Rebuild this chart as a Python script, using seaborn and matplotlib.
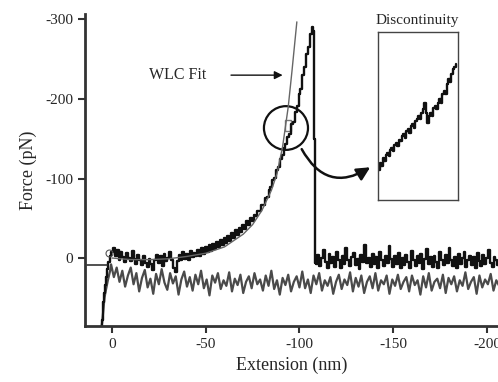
import numpy as np
import pandas as pd
import matplotlib.pyplot as plt
from matplotlib.patches import Ellipse, Rectangle
import seaborn as sns

# ---- data (extension in nm, force in pN) ----
start_x = [5.5, 5.2, 4.8, 4.4, 4.0, 3.4, 2.8, 2.2, 1.6, 1.0]
start_black = [85, 78, 66, 55, 44, 34, 24, 14, 5, -3]
start_gray = [85, 80, 70, 60, 50, 42, 35, 28, 22, 16]

black_rise = [-8, -12, -3, -10, 2, -8, -1, 5, -6, 0, 4, -9, 1, 7, -4, 3, 9, -3, 6, 11,
              1, 8, 15, 2, -4, 6, -2, 10, -5, 4, 0, -7, 3, 13, 17, 4, -4, 3, -8, 1,
              -5, 2, -9, -1, -6,
              -2, -10, -3, -12, -5, -14, -7, -16, -9, -18, -11, -20, -14, -23, -16, -25,
              -19, -28, -21, -31, -25, -35, -29, -38, -33, -42, -36, -46, -41, -50, -46,
              -54, -53, -59, -59, -67, -67, -75, -77, -86, -89, -98, -101, -111, -115, -125,
              -130, -138, -143, -152, -156, -168, -171, -184, -191, -206, -213, -230, -240,
              -257, -266, -282, -290]
rupture_x = [-107.6, -108.0, -108.3]
rupture_f = [-286, -150, 6]
black_after = [8, -4, 10, 0, -10, 5, 12, -5, 6, -1, 11, -7, 3, 13, -3, 7, -13, 2, 10, -1,
               -6, 9, 1, 14, -4, 5, -17, 6, 0, 11, -5, 7, -1, 12, -8, 3, 10, -3, 6, -15,
               1, 11, -2, 7, -6, 13, 0, 9, -4, 5, 12, -9, 3, 10, -2, 6, -5, 14, 1, -11,
               7, -1, 11, -3, 5, 13, -7, 3, 9, -4, 6, -13, 2, 10, -1, 12, -5, 7, 0, -8,
               11, 2, -3, 9, -1, 13, -6, 4, 10, -4, 7, 0, -10, 6, 11, -1, 3, 9]
gray_noise = [8, 24, 12, 30, 16, 36, 22, 12, 33, 19, 42, 25, 15, 37, 26, 45, 20, 33, 14, 31,
              40, 19, 32, 23, 46, 27, 17, 36, 24, 41, 21, 33, 16, 38, 27, 47, 22, 31, 19, 39,
              28, 35, 18, 42, 26, 34, 21, 44, 30, 23, 38, 19, 33, 27, 41, 22, 35, 16, 39, 28,
              46, 25, 34, 21, 42, 30, 23, 37, 17, 38, 27, 44, 22, 33, 19, 41, 28, 35, 24, 45,
              30, 21, 39, 27, 34, 18, 42, 25, 36, 22, 44, 30, 23, 38, 19, 41, 28, 33, 22, 45,
              27, 35, 21, 39, 30, 24, 42, 22, 34, 28, 46, 23, 37, 19, 41, 30, 26, 38, 21, 44,
              25, 33, 23, 42, 28, 35, 18, 39, 30, 24, 45, 22, 37, 27, 33, 20, 41, 28, 35]

wlc_x = [0, -10, -20, -30, -40, -50, -60, -70, -75, -80, -85, -88, -91, -94, -96, -98.6]
wlc_f = [0, 2, 2, 1, -2, -6, -14, -30, -42, -60, -85, -106, -140, -190, -235, -297]

inset_f = [0.18, 0.22, 0.20, 0.25, 0.23, 0.27, 0.28, 0.26, 0.30, 0.31, 0.29, 0.33, 0.34,
           0.32, 0.36, 0.35, 0.38, 0.39, 0.37, 0.41, 0.42, 0.40, 0.44, 0.45, 0.43, 0.47,
           0.48, 0.50, 0.48, 0.52, 0.54, 0.58, 0.52, 0.46, 0.50, 0.52, 0.50, 0.55, 0.56,
           0.54, 0.58, 0.60, 0.58, 0.63, 0.65, 0.63, 0.69, 0.72, 0.70, 0.75, 0.78, 0.79, 0.81]

x_ticks = [0, -50, -100, -150, -200]
y_ticks = [0, -100, -200, -300]

# ---- assemble traces ----
black_x = start_x + list(-np.arange(len(black_rise), dtype=float)) + rupture_x + \
    list(-109.0 - np.arange(len(black_after)))
black_f = start_black + black_rise + rupture_f + black_after
black = pd.DataFrame({"ext": black_x, "force": black_f})

gray_x = start_x + list(0.5 - 1.5 * np.arange(len(gray_noise)))
gray_f = start_gray + gray_noise
gray = pd.DataFrame({"ext": gray_x, "force": gray_f})

wlc = pd.DataFrame({"ext": wlc_x, "force": wlc_f})

sns.set_style("ticks")
plt.rcParams["font.family"] = ["Liberation Serif", "DejaVu Serif"]
plt.rcParams["axes.unicode_minus"] = False

fig = plt.figure(figsize=(4.98, 3.82), dpi=100)
ax = fig.add_axes([85 / 498, 56 / 382, 413 / 498, 312 / 382])

sns.lineplot(data=gray, x="ext", y="force", sort=False, estimator=None, ax=ax,
             color="#4a4a4a", lw=1.6)
sns.lineplot(data=black, x="ext", y="force", sort=False, estimator=None, ax=ax,
             color="#111111", lw=1.7, drawstyle="steps-mid")
sns.lineplot(data=wlc, x="ext", y="force", sort=False, estimator=None, ax=ax,
             color="#666666", lw=1.0)

# baseline marker and origin circle
ax.plot([13.5, 2.5], [9, 9], color="#333333", lw=1.2)
ax.plot([1.8], [-6], marker="o", ms=5, mfc="none", mec="#555555", mew=0.8)

ax.set_xlim(14.4, -205.9)
ax.set_ylim(85.5, -306.9)
ax.set_xticks(x_ticks)
ax.set_yticks(y_ticks)
ax.set_xlabel("Extension (nm)", fontsize=13, labelpad=4)
ax.set_ylabel("Force (pN)", fontsize=13, labelpad=6)
ax.tick_params(labelsize=11, width=1.5, length=5, color="#333333")
for s in ["top", "right"]:
    ax.spines[s].set_visible(False)
for s in ["left", "bottom"]:
    ax.spines[s].set_linewidth(2)
    ax.spines[s].set_color("#333333")

# zoom circle and marked window
ax.add_patch(Ellipse((-92.8, -163.5), 23.5, 55, fill=False, lw=1.6, color="#111111"))
ax.add_patch(Rectangle((-95.5, -173), 3.4, 13, fill=False, lw=1.0, ec="#777777"))

# WLC label and arrow
ax.text(-35, -230, "WLC Fit", fontsize=11.5, ha="center", va="center")
ax.annotate("", xy=(-92.5, -230), xytext=(-62, -230),
            arrowprops=dict(arrowstyle="-|>", color="#111111", lw=1.0, mutation_scale=12))

# curved arrow to inset
ax.annotate("", xy=(-139, -116), xytext=(-100.5, -140),
            arrowprops=dict(arrowstyle="-|>", color="#111111", lw=1.8, mutation_scale=20,
                            connectionstyle="arc3,rad=0.55"))

ax.text(-163, -299, "Discontinuity", fontsize=11, ha="center", va="center")

# inset panel
ins = fig.add_axes([378 / 498, 1 - 200 / 382, 80 / 498, 168 / 382])
inset = pd.DataFrame({"pos": np.linspace(0.01, 0.98, len(inset_f)), "force": inset_f})
sns.lineplot(data=inset, x="pos", y="force", sort=False, estimator=None, ax=ins,
             color="#111111", lw=1.7, drawstyle="steps-mid")
ins.set_xlim(0, 1)
ins.set_ylim(0, 1)
ins.set_xticks([])
ins.set_yticks([])
ins.set_xlabel("")
ins.set_ylabel("")
for s in ins.spines.values():
    s.set_linewidth(1.0)
    s.set_color("#444444")
    s.set_visible(True)

fig.savefig("out.png", dpi=100)
